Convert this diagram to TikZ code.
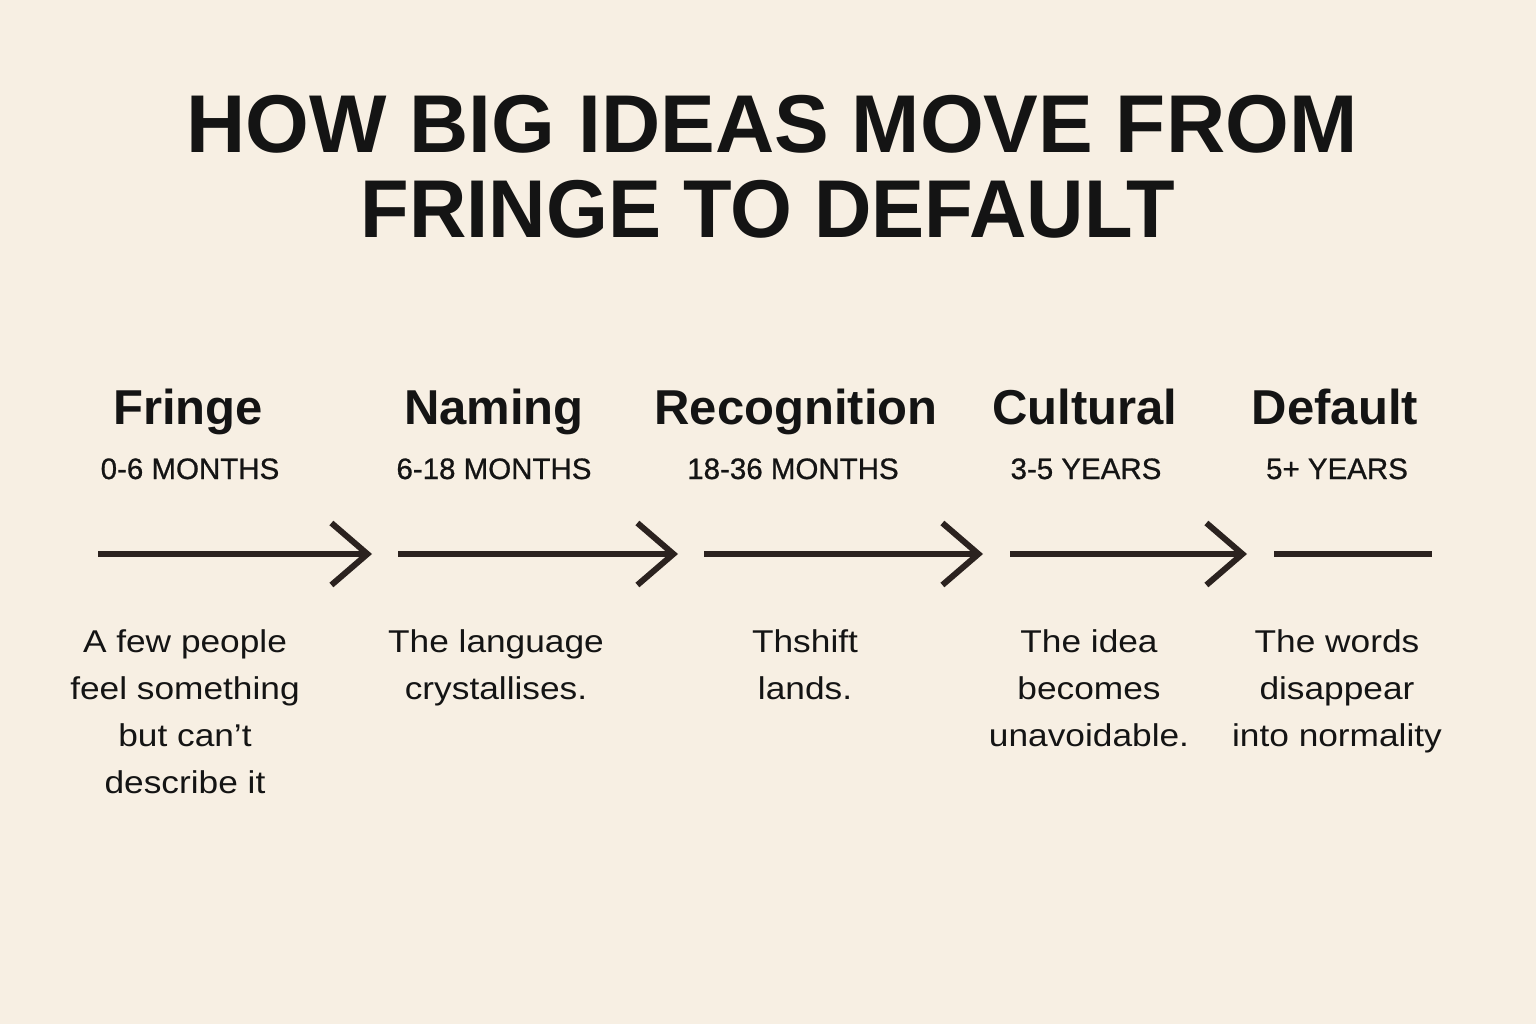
\documentclass[tikz,border=0pt]{standalone}
\usepackage{fontspec}
\setmainfont{Liberation Sans}
\newfontfamily\subfont[FakeBold=0.8]{Liberation Sans}
\newfontfamily\bodyfont[FakeStretch=1.12]{Liberation Sans}
\usetikzlibrary{arrows.meta}
\definecolor{bgc}{HTML}{F7EFE3}
\definecolor{ink}{HTML}{141414}
\definecolor{arrc}{HTML}{2B221F}
\tikzset{
  titletext/.style={anchor=base, text=ink, font=\fontsize{82}{90}\selectfont\bfseries, inner sep=0pt},
  headtext/.style={anchor=base, text=ink, font=\fontsize{49}{56}\selectfont\bfseries, inner sep=0pt},
  subtext/.style={anchor=base, text=ink, font=\subfont\fontsize{29.5}{34}\selectfont, inner sep=0pt},
  bodytext/.style={anchor=base, text=ink, font=\bodyfont\fontsize{31.5}{47}\selectfont, inner sep=0pt, align=center},
  arr/.style={draw=arrc, line width=5.5pt, -{Straight Barb[length=36pt,width=62pt,line width=6pt,line join=miter]}},
  plainline/.style={draw=arrc, line width=5.5pt},
}
\begin{document}
\begin{tikzpicture}[x=1pt,y=-1pt]
\fill[bgc] (0,0) rectangle (1536,1024);
\useasboundingbox (0,0) rectangle (1536,1024);
% title
\node[titletext] (t1) at (772,153) {HOW BIG IDEAS MOVE FROM};
\node[titletext, xscale=0.97] (t2) at (768,238) {FRINGE TO DEFAULT};
% headings
\node[headtext] (h1) at (188,424) {Fringe};
\node[headtext] (h2) at (494,424) {Naming};
\node[headtext] (h3) at (796,424) {Recognition};
\node[headtext] (h4) at (1085,424) {Cultural};
\node[headtext] (h5) at (1335,424) {Default};
% periods
\node[subtext] (p1) at (190,479) {0-6 MONTHS};
\node[subtext] (p2) at (494,479) {6-18 MONTHS};
\node[subtext] (p3) at (793,479) {18-36 MONTHS};
\node[subtext] (p4) at (1086,479) {3-5 YEARS};
\node[subtext] (p5) at (1337,479) {5+ YEARS};
% connectors
\coordinate (s1) at (98,554);  \coordinate (e1) at (372,554);
\coordinate (s2) at (398,554); \coordinate (e2) at (678,554);
\coordinate (s3) at (704,554); \coordinate (e3) at (983,554);
\coordinate (s4) at (1010,554);\coordinate (e4) at (1247,554);
\coordinate (s5) at (1274,554);\coordinate (e5) at (1432,554);
\draw[arr] (s1) -- (e1);
\draw[arr] (s2) -- (e2);
\draw[arr] (s3) -- (e3);
\draw[arr] (s4) -- (e4);
\draw[plainline] (s5) -- (e5);
% descriptions (base anchor = baseline of last line)
\node[bodytext] (d1) at (185,793) {A few people\\feel something\\but can’t\\describe it};
\node[bodytext] (d2) at (496,699) {The language\\crystallises.};
\node[bodytext] (d3) at (805,699) {Thshift\\lands.};
\node[bodytext] (d4) at (1089,746) {The idea\\becomes\\unavoidable.};
\node[bodytext] (d5) at (1337,746) {The words\\disappear\\into normality};
\end{tikzpicture}
\end{document}
